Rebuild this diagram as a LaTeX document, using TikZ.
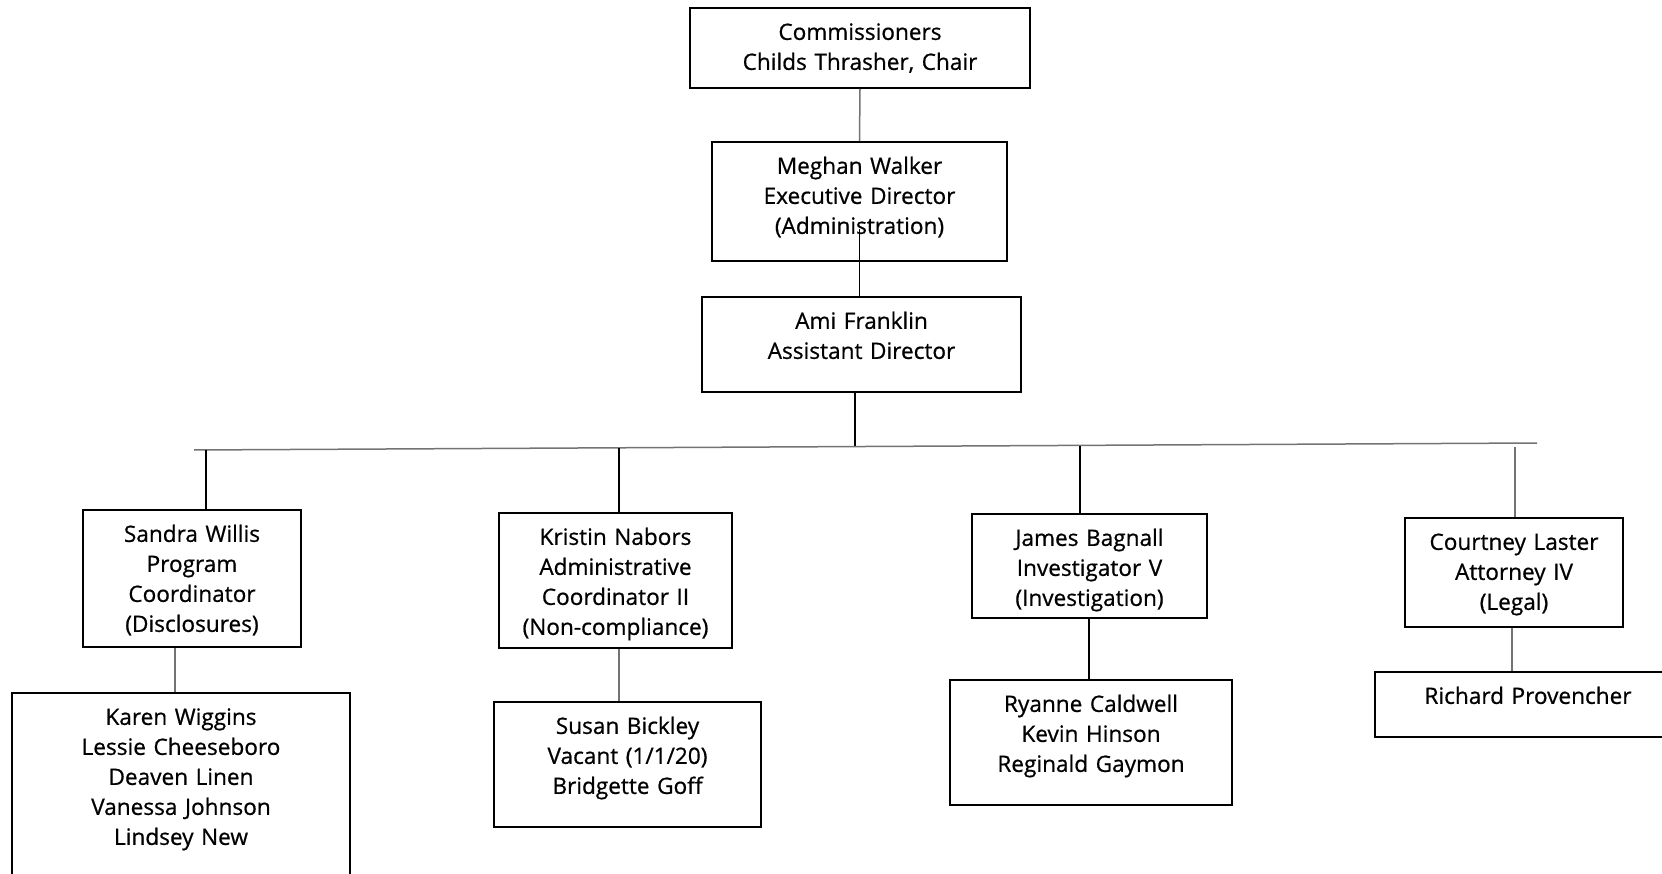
\documentclass[tikz,border=0pt]{standalone}
\usepackage{fontspec}
\newfontfamily\orgfont[UprightFeatures={FakeBold=0.7}]{Open Sans}

\begin{document}
\begin{tikzpicture}
        [
            x = 1pt, y = -1pt,
            post/.style = {
                draw, line width=1.8pt, anchor=north, align=center,
                font=\orgfont\fontsize{22.6}{30}\selectfont,
                inner sep=0pt, text height=32pt},
            link/.style = {line width=1.6pt, black},
            faint/.style = {line width=1.5pt, black!55}
        ]
        \useasboundingbox (0,0) rectangle (1662,874);
        \clip (0,0) rectangle (1662,874);
        % top of the chart
        \node [post, text width=340pt, text depth=48pt] (Comm) at (860,7) {Commissioners\\Childs Thrasher, Chair};
        \node [post, text width=295pt, text depth=87pt] (Exec) at (859.5,141) {Meghan Walker\\Executive Director\\(Administration)};
        \node [post, text width=319pt, text depth=63pt] (Asst) at (861.5,296) {Ami Franklin\\Assistant Director};
        % section heads
        \node [post, text width=218pt, text depth=105pt] (Sandra) at (192,509) {Sandra Willis\\Program\\Coordinator\\(Disclosures)};
        \node [post, text width=233pt, text depth=103pt] (Kristin) at (615.5,512) {Kristin Nabors\\Administrative\\Coordinator II\\(Non-compliance)};
        \node [post, text width=235pt, text depth=72pt] (James) at (1089.5,513) {James Bagnall\\Investigator V\\(Investigation)};
        \node [post, text width=218pt, text depth=77pt] (Courtney) at (1514,517) {Courtney Laster\\Attorney IV\\(Legal)};
        % staff
        \node [post, text width=338pt, text depth=168pt] (Karen) at (181,692) {Karen Wiggins\\Lessie Cheeseboro\\Deaven Linen\\Vanessa Johnson\\Lindsey New};
        \node [post, text width=267pt, text depth=93pt] (Susan) at (627.5,701) {Susan Bickley\\Vacant (1/1/20)\\Bridgette Goff};
        \node [post, text width=282pt, text depth=93pt] (Ryanne) at (1091,679) {Ryanne Caldwell\\Kevin Hinson\\Reginald Gaymon};
        \node [post, text width=306pt, text depth=33pt] (Richard) at (1528,671) {Richard Provencher};
        % bus line
        \coordinate (BusW) at (194,450);
        \coordinate (BusE) at (1537,443);
        \coordinate (TapA) at (855,446.5);
        \coordinate (TapS) at (206,450);
        \coordinate (TapK) at (619,448);
        \coordinate (TapJ) at (1080,445.5);
        \coordinate (TapC) at (1515,447);
        \draw [faint] (Comm.south) -- (Exec.north);
        \draw [link] ([yshift=33pt]Exec.south) -- ([xshift=-2pt]Asst.north);
        \draw [link] ([xshift=-6.5pt]Asst.south) -- (TapA);
        \draw [faint] (BusW) -- (BusE);
        \draw [link] (TapS) -- (TapS |- Sandra.north);
        \draw [link] (TapK) -- (TapK |- Kristin.north);
        \draw [link] (TapJ) -- (TapJ |- James.north);
        \draw [faint] (TapC) -- (TapC |- Courtney.north);
        \draw [faint] ([xshift=-17pt]Sandra.south) -- ([xshift=-6pt]Karen.north);
        \draw [faint] ([xshift=3.5pt]Kristin.south) -- ([xshift=-8.5pt]Susan.north);
        \draw [link] ([xshift=-0.5pt]James.south) -- ([xshift=-2pt]Ryanne.north);
        \draw [faint] ([xshift=-2pt]Courtney.south) -- ([xshift=-16pt]Richard.north);
    \end{tikzpicture}
\end{document}
